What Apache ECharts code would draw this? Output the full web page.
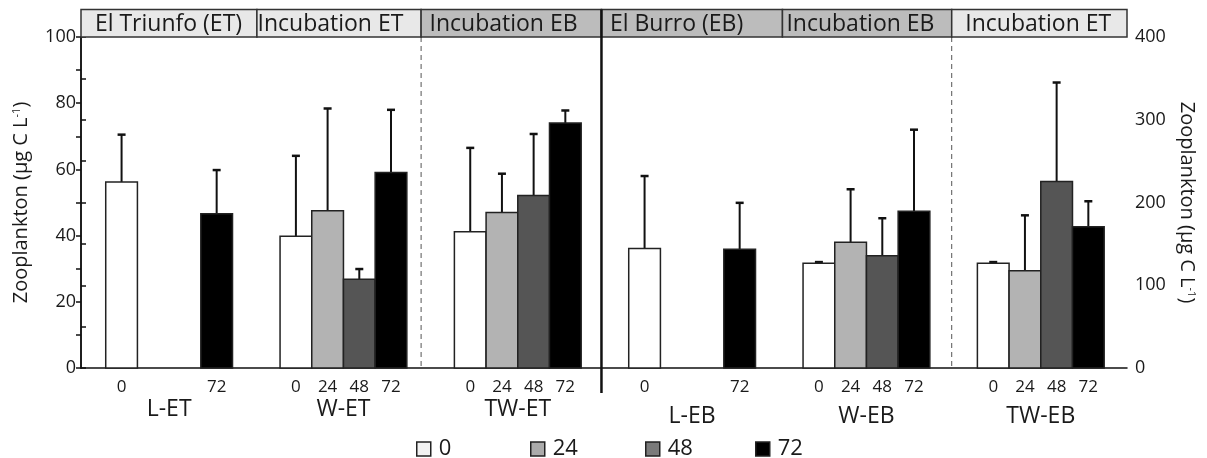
<!DOCTYPE html>
<html>
<head>
<meta charset="utf-8">
<script src="https://cdn.jsdelivr.net/npm/echarts@6/dist/echarts.min.js"></script>
<style>
  html, body { margin: 0; padding: 0; background: #fff; }
  #chart { width: 1207px; height: 458px; }
</style>
</head>
<body>
<div id="chart"></div>
<script>
// sampling times (h) and treatments
const hours = ['0', '24', '48', '72'];
const groupsET = ['L-ET', 'W-ET', 'TW-ET'];
const groupsEB = ['L-EB', 'W-EB', 'TW-EB'];
const headerLabels = ['El Triunfo (ET)', 'Incubation ET', 'Incubation EB', 'El Burro (EB)', 'Incubation EB', 'Incubation ET'];

// El Triunfo panel, µg C L-1 on the left axis (mean, SD per hour)
const meanLET = [56.2, null, null, 46.6];
const sdLET = [14.3, null, null, 13.2];
const meanWET = [39.8, 47.5, 26.8, 59.1];
const sdWET = [24.3, 30.9, 3.1, 18.9];
const meanTWET = [41.2, 47.0, 52.1, 74.0];
const sdTWET = [25.3, 11.7, 18.6, 3.8];

// El Burro panel, µg C L-1 on the right axis
const meanLEB = [144.5, null, null, 143.5];
const sdLEB = [87.5, null, null, 56.1];
const meanWEB = [126.5, 152.0, 135.8, 189.5];
const sdWEB = [1.5, 64.0, 45.2, 98.5];
const meanTWEB = [126.5, 117.5, 225.5, 170.7];
const sdTWEB = [1.5, 67.0, 119.5, 30.8];

// axis ticks / labels
const leftTicks = [0, 10, 20, 30, 40, 50, 60, 70, 80, 90, 100];
const leftLabels = [0, 20, 40, 60, 80, 100];
const rightTicks = [0, 50, 100, 150, 200, 250, 300, 350, 400];
const rightLabels = [0, 100, 200, 300, 400];

// layout (x in bar-slot units)
const FONT = '"Open Sans", "Noto Sans", sans-serif';
const TXT = '#1a1a1a';
const X_MAX = 33;
const FIRST_SLOT = 1.28;
const GROUP_STEP = 5.5;
const headerBounds = [0, 5.55, 10.73, 16.42, 22.13, 27.47, 33];
const headerCenters = [2.76, 7.87, 13.33, 18.79, 24.59, 30.2];
const headerFills = ['#e8e8e8', '#e8e8e8', '#bcbcbc', '#bcbcbc', '#bcbcbc', '#e8e8e8'];
const dashedAt = [10.73, 27.47];
const solidAt = 16.42;
const barColors = ['#ffffff', '#b3b3b3', '#555555', '#000000'];
const legendColors = ['#f2f2f2', '#ababab', '#7b7b7b', '#000000'];
const legendLeft = [411, 525, 640, 750];

const slotX = (g, k) => FIRST_SLOT + GROUP_STEP * g + k;

const panels = [
  { axis: 0, offset: 0, names: groupsET, groups: [[meanLET, sdLET], [meanWET, sdWET], [meanTWET, sdTWET]] },
  { axis: 1, offset: 3, names: groupsEB, groups: [[meanLEB, sdLEB], [meanWEB, sdWEB], [meanTWEB, sdTWEB]] }
];

function renderBar(params, api) {
  const x = api.value(0);
  const m = api.value(1);
  const sd = api.value(2);
  const w = api.size([1, 0])[0];
  const top = api.coord([x, m]);
  const base = api.coord([x, 0]);
  const err = api.coord([x, m + sd]);
  return {
    type: 'group',
    children: [
      { type: 'line', shape: { x1: top[0], y1: top[1], x2: err[0], y2: err[1] }, style: { stroke: '#111', lineWidth: 2 } },
      { type: 'line', shape: { x1: err[0] - 4, y1: err[1], x2: err[0] + 4, y2: err[1] }, style: { stroke: '#111', lineWidth: 2.5 } },
      { type: 'rect', shape: { x: top[0] - w / 2, y: top[1], width: w, height: base[1] - top[1] },
        style: { fill: api.visual('color'), stroke: '#222', lineWidth: 1.5 } }
    ]
  };
}

const series = [];
const hourLabelAt = new Map();
const groupLabelAt = new Map();
panels.forEach(p => {
  p.names.forEach((n, gi) => groupLabelAt.set((slotX(p.offset + gi, 1.5)).toFixed(2), { text: n, right: p.axis === 1 }));
  hours.forEach((h, k) => {
    const data = [];
    p.groups.forEach(([mean, sd], gi) => {
      if (mean[k] == null) return;
      const x = slotX(p.offset + gi, k);
      data.push([x, mean[k], sd[k]]);
      hourLabelAt.set(x.toFixed(2), h);
    });
    series.push({
      type: 'custom', name: h, xAxisIndex: 0, yAxisIndex: p.axis,
      renderItem: renderBar, data: data, encode: { x: 0, y: 1 },
      itemStyle: { color: barColors[k] }, clip: false, z: 3
    });
  });
});
const hourPos = [...hourLabelAt.keys()].map(Number);
const groupPos = [...groupLabelAt.keys()].map(Number);

const yName = 'Zooplankton (µg C L{sup|-1})';
const nameStyle = { fontSize: 20, fontFamily: FONT, color: TXT, rich: { sup: { fontSize: 11, fontFamily: FONT, color: TXT, verticalAlign: 'top' } } };
const axisLineStyle = { show: true, lineStyle: { color: '#111', width: 1.5 } };

const chart = echarts.init(document.getElementById('chart'), null, { renderer: 'canvas' });
chart.setOption({
  animation: false,
  backgroundColor: '#fff',
  grid: { left: 81, right: 80, top: 37, bottom: 90 },
  xAxis: [
    {
      type: 'value', min: 0, max: X_MAX, position: 'bottom',
      axisLine: axisLineStyle, axisTick: { show: false }, splitLine: { show: false },
      axisLabel: { customValues: hourPos, formatter: v => hourLabelAt.get(v.toFixed(2)) || '',
        margin: 11, fontSize: 17, fontFamily: FONT, color: TXT }
    },
    {
      type: 'value', min: 0, max: X_MAX, position: 'bottom',
      axisLine: { show: false }, axisTick: { show: false }, splitLine: { show: false },
      axisLabel: { customValues: groupPos, margin: 30, fontSize: 23, fontFamily: FONT, color: TXT,
        formatter: v => { const g = groupLabelAt.get(v.toFixed(2)); return g ? (g.right ? '{r|' + g.text + '}' : g.text) : ''; },
        rich: { r: { fontSize: 23, fontFamily: FONT, color: TXT, padding: [7, 0, 0, 0] } } }
    }
  ],
  yAxis: [
    {
      type: 'value', position: 'left', min: 0, max: 100,
      axisLine: axisLineStyle, splitLine: { show: false },
      axisTick: { show: true, customValues: leftTicks, length: 5, lineStyle: { color: '#111', width: 1.5 } },
      axisLabel: { customValues: leftLabels, margin: 5, fontSize: 18, fontFamily: FONT, color: TXT },
      name: yName, nameLocation: 'middle', nameGap: 50, nameTextStyle: nameStyle
    },
    {
      type: 'value', position: 'right', min: 0, max: 400,
      axisLine: axisLineStyle, splitLine: { show: false },
      axisTick: { show: true, customValues: rightTicks, length: 5, lineStyle: { color: '#111', width: 1.5 } },
      axisLabel: { customValues: rightLabels, margin: 8, fontSize: 18, fontFamily: FONT, color: TXT },
      name: yName, nameLocation: 'middle', nameGap: 48, nameRotate: -90, nameTextStyle: nameStyle
    }
  ],
  legend: hours.map((h, k) => ({
    data: [{ name: h, icon: 'rect', itemStyle: { color: legendColors[k], borderColor: '#222', borderWidth: 1.5 } }],
    left: legendLeft[k], top: 433, itemWidth: 14, itemHeight: 14, selectedMode: false,
    textStyle: { fontSize: 22, fontFamily: FONT, color: TXT, padding: [0, 0, 0, 3] }
  })),
  series: series
});

// header strip and panel dividers placed through the x axis scale
const px = v => chart.convertToPixel({ xAxisIndex: 0 }, v);
const plotTop = 37;
const plotBottom = 368;
const headTop = 9.5;
const graphic = [];
headerLabels.forEach((t, i) => {
  const x0 = px(headerBounds[i]);
  const x1 = px(headerBounds[i + 1]);
  graphic.push({ type: 'rect', shape: { x: x0, y: headTop, width: x1 - x0, height: plotTop - headTop },
    style: { fill: headerFills[i], stroke: '#333', lineWidth: 1.5 }, z: 10 });
  graphic.push({ type: 'text', x: px(headerCenters[i]), y: (headTop + plotTop) / 2 + 1,
    style: { text: t, fontSize: 23, fontFamily: FONT, fill: TXT, align: 'center', verticalAlign: 'middle' }, z: 11 });
});
dashedAt.forEach(v => graphic.push({ type: 'line', shape: { x1: px(v), y1: plotTop, x2: px(v), y2: plotBottom },
  style: { stroke: '#555', lineWidth: 1, lineDash: [5, 4] }, z: 1 }));
graphic.push({ type: 'line', shape: { x1: px(solidAt), y1: headTop, x2: px(solidAt), y2: 393 },
  style: { stroke: '#111', lineWidth: 2.5 }, z: 12 });
chart.setOption({ graphic: graphic });
</script>
</body>
</html>
